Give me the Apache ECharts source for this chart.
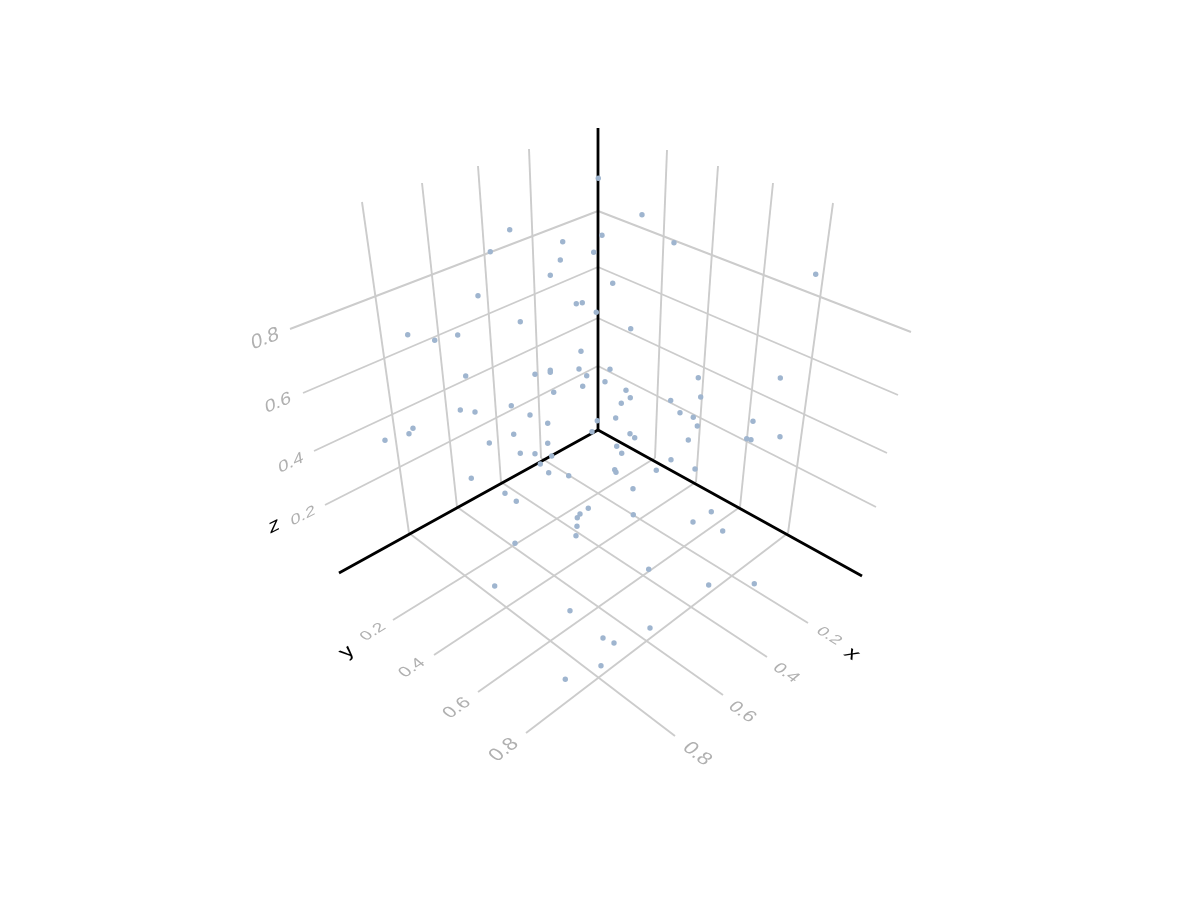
<!DOCTYPE html>
<html><head><meta charset="utf-8">
<style>html,body{margin:0;padding:0;background:#fff}#c{width:1200px;height:900px}</style>
<script src="https://cdn.jsdelivr.net/npm/echarts@6/dist/echarts.min.js"></script>
</head><body><div id="c"></div>
<script>
// Values are the projected positions, on a flat 1200 x 900 value plane.
const tickLabels = ['0.2','0.4','0.6','0.8'];
const axisNames = ['x','y','z'];
// four grid lines per family: [from x, from y, to x, to y]
const floorXLines = [[541,458,808,623],[501,482,767,657],[457,507,723,695],[409,533,675,736]];
const floorYLines = [[655,458,393,620],[696,482,434,655],[740,507,478,692],[788,533,526,733]];
const wallLeftVerticals = [[529,149,541,458],[478,166,501,482],[422,183,457,507],[362,202,409,533]];
const wallRightVerticals = [[667,150,655,458],[718,166,696,482],[773,183,740,507],[833,203,788,533]];
const wallLeftLevels = [[598,366,325,505],[598,318,314,451],[598,267,303,393],[598,211,290,329]];
const wallRightLevels = [[598,366,876,507],[598,318,887,453],[598,267,898,395],[598,211,911,332]];
const axisLines = [[598,430,862,576],[598,430,339,573],[598,430,598,128]];
const points = [
[598.3,178.3],[509.7,229.7],[490.3,251.7],[562.7,241.7],[593.7,252.3],[560.3,260],[550.3,275.3],[478,295.7],
[576.3,303.7],[582.3,302.7],[596.3,312.3],[520.3,321.7],[407.7,334.7],[434.7,340.3],[457.7,335],[581,351.3],
[465.7,376],[535,374.3],[550.3,370.3],[550.3,372.3],[579,369],[586.7,375.7],[582.7,386.3],[553.7,392.3],
[460.3,410],[475,412],[511.3,405.7],[530,415],[547.7,423.3],[413,428.3],[409,433.7],[385,440.3],
[513.7,434.3],[489.3,443],[547.7,443.3],[520.3,453.3],[535,453.7],[551.7,456],[540.3,464],[548.7,472.7],
[568.7,475.7],[471.3,478.3],[505,493.3],[516.3,501.3],[588.3,508.3],[580,514],[577.3,517.7],[577,526.3],
[576,535.7],[515,543.3],[494.7,586],[570,610.7],[597.3,420.7],[592,431.7],
[642,214.7],[602,235.3],[674,242.7],[612.7,283.3],[630.7,328.7],[815.7,274.3],[610,369.3],[605,381.7],
[626,390.3],[630.3,397.7],[698.3,377.7],[700.7,397],[670.7,400.5],[780.3,378],
[621.3,403.3],[680,412.7],[693.3,417.3],[615.7,418],[697.3,426],[753,421.3],[630,433.7],[634.7,437.7],
[688.3,440],[746.7,438.7],[751,439.7],[780,436.7],[616.7,446.3],[621.7,453.3],[671,459.7],[656.3,470.3],
[695,469],[614.7,469.7],[616,472.3],[633,488.7],[633.3,514.7],[711.3,511.7],[693,522],[722.7,531],
[648.7,569.3],[708.7,585],[754.3,583.7],[650,628],[603,638],[614,643],[601,665.7],[565.3,679.3]
];
const xTickPlaces = [[829,636],[786,673],[742,712],[697,754]];
const yTickPlaces = [[373,632],[412,668],[457,708],[504,750]];
const zTickPlaces = [[303,516],[291,463],[278,403],[265,339]];

const gridRows = [].concat(floorXLines,floorYLines,wallLeftVerticals,wallRightVerticals,wallLeftLevels,wallRightLevels);
const segment = (color,width)=>(p,api)=>{
  const a=api.coord([api.value(0),api.value(1)]), b=api.coord([api.value(2),api.value(3)]);
  return {type:'line',shape:{x1:a[0],y1:a[1],x2:b[0],y2:b[1]},style:{stroke:color,lineWidth:width,lineCap:'butt',fill:null}};
};
// Text lies in the plot's planes: baseline angle, up angle (degrees, counter-clockwise on screen), scale along each.
const textRows = [];
const addTicks=(places,base,up,sa,su)=>places.forEach((q,i)=>textRows.push([q[0],q[1],tickLabels[i],base[i],up,sa[i],su[i],'#b0b0b0']));
addTicks(xTickPlaces,[-31.7,-33.3,-35.3,-37.3],40,[.9,.93,.97,1.03],[.74,.82,.9,1]);
addTicks(yTickPlaces,[31.7,33.4,35.2,37.4],140,[.9,.93,.97,1.03],[.74,.82,.9,1]);
addTicks(zTickPlaces,[27,25,23,21],98,[.97,.98,1,1.05],[.72,.8,.88,1.02]);
textRows.push([852,654,axisNames[0],-31,40,1.15,1,'#000000']);
textRows.push([347,652,axisNames[1],31,140,1.15,1,'#000000']);
textRows.push([274,526,axisNames[2],27,98,1.15,1,'#000000']);

function planeText(d,cx,cy){
  const r=Math.PI/180, ca=Math.cos(d[3]*r), sa=Math.sin(d[3]*r), cu=Math.cos(d[4]*r), su=Math.sin(d[4]*r);
  // columns of the transform: baseline vector and text-down vector, in screen coordinates (y down)
  const m00=ca*d[5], m10=-sa*d[5], m01=-cu*d[6], m11=su*d[6];
  const E=(m00+m11)/2,F=(m00-m11)/2,G=(m10+m01)/2,H=(m10-m01)/2;
  const Q=Math.hypot(E,H),R=Math.hypot(F,G);
  const a1=Math.atan2(G,F),a2=Math.atan2(H,E);
  const theta=(a2-a1)/2, phi=(a2+a1)/2;
  return {type:'group',x:cx,y:cy,rotation:-phi,scaleX:Q+R,scaleY:Q-R,children:[
    {type:'text',rotation:-theta,style:{text:d[2],fill:d[7],fontSize:20,fontFamily:'Liberation Sans',align:'center',verticalAlign:'middle'}}
  ]};
}

const chart=echarts.init(document.getElementById('c'),null,{renderer:'canvas'});
chart.setOption({
  animation:false,backgroundColor:'#fff',
  grid:{left:0,right:0,top:0,bottom:0},
  xAxis:{type:'value',min:0,max:1200,show:false},
  yAxis:{type:'value',min:0,max:900,inverse:true,show:false},
  series:[
    {type:'custom',coordinateSystem:'cartesian2d',data:gridRows,renderItem:segment('#cccccc',1.9),z:1,silent:true,clip:false},
    {type:'custom',coordinateSystem:'cartesian2d',data:axisLines,renderItem:segment('#000000',2.8),z:2,silent:true,clip:false},
    {type:'scatter',data:points,symbol:'circle',symbolSize:5.4,itemStyle:{color:'#9fb5cf',opacity:1},z:3,silent:true},
    {type:'custom',coordinateSystem:'cartesian2d',data:textRows,z:4,silent:true,clip:false,
     encode:{x:0,y:1},
     renderItem:(p,api)=>{
       const d=textRows[p.dataIndex], c=api.coord([d[0],d[1]]);
       return planeText(d,c[0],c[1]);
     }}
  ]
});
</script></body></html>
